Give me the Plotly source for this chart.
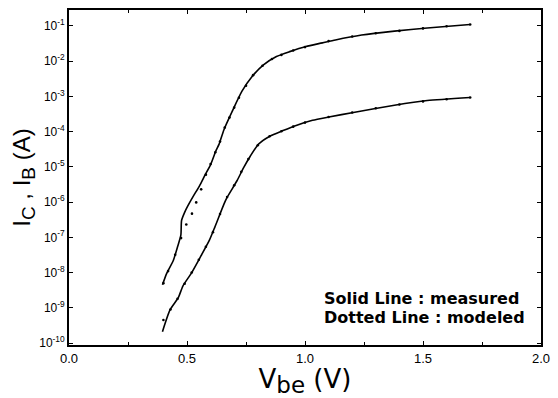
import plotly.graph_objects as go

# Measured (solid line)
vbe_ic_meas = [0.396, 0.414, 0.442, 0.460, 0.474, 0.477, 0.490, 0.504, 0.525, 0.553, 0.575,
               0.601, 0.622, 0.636, 0.657, 0.692, 0.733, 0.775, 0.824, 0.879, 0.935, 1.004,
               1.074, 1.129, 1.24, 1.379, 1.518, 1.699]
ic_meas = [4.5e-9, 9.5e-9, 2.2e-8, 5.4e-8, 1.15e-7, 3.0e-7, 5.1e-7, 7.9e-7, 1.4e-6, 2.9e-6, 5.6e-6,
           1.2e-5, 2.8e-5, 4.4e-5, 1.15e-4, 3.8e-4, 1.4e-3, 3.6e-3, 7.8e-3, 1.35e-2, 1.86e-2, 2.6e-2,
           3.3e-2, 4.0e-2, 5.5e-2, 7.1e-2, 8.7e-2, 1.1e-1]

vbe_ib_meas = [0.396, 0.428, 0.4625, 0.483, 0.518, 0.553, 0.595, 0.618, 0.657, 0.671, 0.7125,
               0.74, 0.768, 0.803, 0.851, 0.907, 0.9625, 1.032, 1.101, 1.205, 1.379, 1.518, 1.699]
ib_meas = [2.1e-10, 8.7e-10, 1.9e-9, 4.2e-9, 9.5e-9, 2.5e-8, 8.3e-8, 1.95e-7, 8.9e-7, 1.4e-6, 4.1e-6,
           9.5e-6, 2.0e-5, 4.4e-5, 7.4e-5, 1.07e-4, 1.5e-4, 2.1e-4, 2.6e-4, 3.5e-4, 5.6e-4, 7.6e-4, 9.3e-4]

# Modeled (dotted)
vbe_ic_mod = [0.40, 0.42, 0.45, 0.475, 0.497, 0.521, 0.539, 0.56, 0.58, 0.60, 0.62, 0.64, 0.66,
              0.68, 0.70, 0.72, 0.75, 0.78, 0.82, 0.86, 0.90, 0.95, 1.00, 1.10, 1.20, 1.30,
              1.40, 1.50, 1.60, 1.70]
ic_mod = [5.0e-9, 1.1e-8, 3.2e-8, 9.5e-8, 2.3e-7, 4.7e-7, 9.8e-7, 2.3e-6, 6.0e-6, 1.2e-5, 2.6e-5,
          5.2e-5, 1.3e-4, 2.5e-4, 4.8e-4, 9.1e-4, 2.0e-3, 4.0e-3, 7.4e-3, 1.15e-2, 1.5e-2, 2.0e-2,
          2.5e-2, 3.7e-2, 5.0e-2, 6.2e-2, 7.2e-2, 8.5e-2, 9.8e-2, 1.1e-1]

vbe_ib_mod = [0.40, 0.43, 0.46, 0.49, 0.52, 0.55, 0.58, 0.61, 0.64, 0.67, 0.70, 0.73, 0.76, 0.80,
              0.85, 0.90, 0.95, 1.00, 1.10, 1.20, 1.30, 1.40, 1.50, 1.60, 1.70]
ib_mod = [4.5e-10, 8.9e-10, 1.8e-9, 4.8e-9, 1.0e-8, 2.3e-8, 5.4e-8, 1.4e-7, 4.6e-7, 1.4e-6, 3.0e-6,
          7.2e-6, 1.66e-5, 4.1e-5, 7.4e-5, 1.02e-4, 1.38e-4, 1.8e-4, 2.6e-4, 3.5e-4, 4.6e-4, 5.9e-4,
          7.2e-4, 8.3e-4, 9.3e-4]

y_tick_vals = [1e-10, 1e-9, 1e-8, 1e-7, 1e-6, 1e-5, 1e-4, 1e-3, 1e-2, 1e-1]
y_tick_text = ["10<sup>-10</sup>", "10<sup>-9</sup>", "10<sup>-8</sup>", "10<sup>-7</sup>",
               "10<sup>-6</sup>", "10<sup>-5</sup>", "10<sup>-4</sup>", "10<sup>-3</sup>",
               "10<sup>-2</sup>", "10<sup>-1</sup>"]
x_tick_vals = [0.0, 0.5, 1.0, 1.5, 2.0]
x_tick_text = ["0.0", "0.5", "1.0", "1.5", "2.0"]

legend_lines = ["Solid Line : measured", "Dotted Line : modeled"]

FONT = "Liberation Sans, Arial, sans-serif"
WIDE = "DejaVu Sans, sans-serif"

fig = go.Figure()
for xs, ys in [(vbe_ic_meas, ic_meas), (vbe_ib_meas, ib_meas)]:
    fig.add_trace(go.Scatter(x=xs, y=ys, mode="lines",
                             line=dict(color="black", width=1.6, shape="spline", smoothing=0.6),
                             showlegend=False))
for xs, ys in [(vbe_ic_mod, ic_mod), (vbe_ib_mod, ib_mod)]:
    fig.add_trace(go.Scatter(x=xs, y=ys, mode="markers",
                             marker=dict(color="black", size=2.6), showlegend=False))

# annotation y positions on a log axis are given as log10 exponents
for txt, ylog in zip(legend_lines, [-8.73, -9.275]):
    fig.add_annotation(x=1.075, y=ylog, xref="x", yref="y", xanchor="left", yanchor="middle",
                       text="<b>" + txt + "</b>", showarrow=False, borderpad=0,
                       font=dict(family=WIDE, size=16, color="black"))

fig.update_layout(
    width=558, height=398,
    margin=dict(l=69, r=9, t=8, b=53),
    paper_bgcolor="white", plot_bgcolor="white",
    font=dict(family=FONT, color="black"),
    xaxis=dict(range=[0, 2.0], tickvals=x_tick_vals, ticktext=x_tick_text,
               ticks="inside", ticklen=4, tickwidth=1.2, tickcolor="black",
               minor=dict(dtick=0.25, ticks="inside", ticklen=3, tickcolor="black", tickwidth=1),
               showline=True, linecolor="black", linewidth=1.8, mirror="ticks",
               showgrid=False, zeroline=False,
               tickfont=dict(size=13, family=FONT),
               title=dict(text="V<sub><span style='font-size:23px'>be</span></sub> (V)",
                          font=dict(size=26, family=WIDE), standoff=1)),
    yaxis=dict(type="log", range=[-10.056, -0.549], tickvals=y_tick_vals, ticktext=y_tick_text,
               ticks="inside", ticklen=4, tickwidth=1.2, tickcolor="black",
               showline=True, linecolor="black", linewidth=1.8, mirror="ticks",
               showgrid=False, zeroline=False,
               tickfont=dict(size=12, family=FONT),
               title=dict(text="I<sub><span style='font-size:19px'>C</span></sub> , I<sub><span style='font-size:19px'>B</span></sub> (A)",
                          font=dict(size=24, family=FONT), standoff=2)),
)

fig.write_html("out.html")
